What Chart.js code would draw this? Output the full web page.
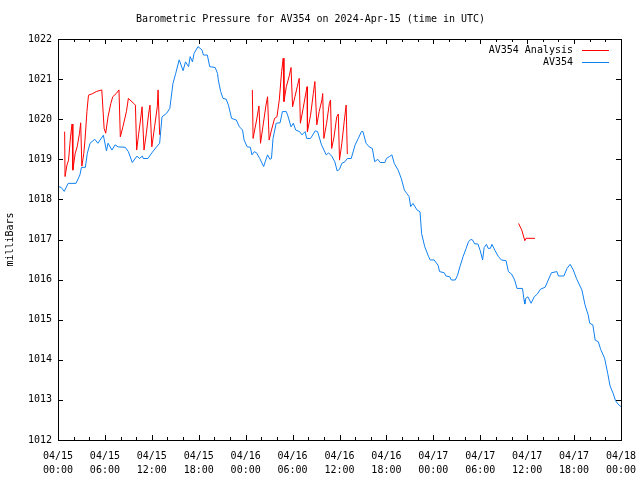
<!DOCTYPE html>
<html>
<head>
<meta charset="utf-8">
<script src="https://cdn.jsdelivr.net/npm/chart.js@4/dist/chart.umd.min.js"></script>
<style>
  html, body { margin: 0; padding: 0; background: #fff; }
  canvas { display: block; }
</style>
</head>
<body>
<canvas id="pressure-chart" width="640" height="480"></canvas>
<script>
// hours since 04/15 00:00 UTC
const stationHours = [
  0.0, 0.4, 0.8, 1.3, 2.3, 2.8, 3.0, 3.5, 3.75, 4.1, 4.7, 5.1, 5.8, 6.2, 6.4, 6.9, 7.3, 7.7, 8.6, 9.0,
  9.5, 10.1, 10.4, 10.8, 10.9, 11.5, 12.0, 12.6, 13.0, 13.3, 13.9, 14.3, 14.7, 15.05, 15.5, 16.0, 16.3, 16.7, 16.9, 17.2,
  17.4, 17.9, 18.4, 18.6, 19.1, 19.4, 20.1, 20.4, 20.5, 20.8, 21.1, 21.5, 21.8, 22.2, 22.8, 23.2, 23.6, 23.8, 24.2, 24.6,
  24.8, 25.1, 25.4, 25.8, 26.3, 26.5, 26.8, 27.1, 27.3, 27.5, 27.9, 28.4, 28.7, 29.2, 29.4, 29.8, 30.1, 30.4, 30.9, 31.2,
  31.6, 31.8, 32.3, 32.9, 33.2, 33.7, 34.3, 34.6, 35.0, 35.4, 35.7, 36.0, 36.3, 36.7, 37.0, 37.5, 38.0, 38.4, 38.8, 39.0,
  39.4, 39.8, 40.2, 40.5, 40.9, 41.2, 41.8, 42.0, 42.4, 42.7, 43.0, 43.5, 43.9, 44.3, 44.6, 44.9, 45.1, 45.4, 45.9, 46.3,
  46.5, 46.9, 47.4, 47.6, 48.1, 48.6, 48.8, 49.4, 49.6, 50.1, 50.3, 50.8, 51.1, 51.4, 51.8, 52.2, 52.5, 52.8, 53.0, 53.3,
  53.7, 54.0, 54.3, 54.5, 54.8, 55.0, 55.3, 55.5, 55.9, 56.3, 56.7, 57.3, 57.6, 58.0, 58.4, 58.7, 59.4, 59.6, 59.7, 59.8,
  60.1, 60.5, 60.9, 61.3, 61.7, 62.3, 62.7, 63.1, 63.8, 64.0, 64.7, 65.1, 65.5, 65.9, 66.3, 67.0, 67.4, 67.8, 68.0, 68.4,
  68.7, 69.1, 69.4, 69.9, 70.3, 70.6, 71.0, 71.3, 71.6, 72.0
];
const stationPressure = [
  1018.32, 1018.30, 1018.20, 1018.40, 1018.40, 1018.61, 1018.80, 1018.80, 1019.15, 1019.40, 1019.50, 1019.40, 1019.60, 1019.21, 1019.40, 1019.23, 1019.36, 1019.31, 1019.30, 1019.19,
  1018.92, 1019.08, 1019.02, 1019.08, 1019.02, 1019.02, 1019.16, 1019.31, 1019.40, 1020.06, 1020.15, 1020.27, 1020.89, 1021.14, 1021.48, 1021.21, 1021.43, 1021.31, 1021.56, 1021.43,
  1021.64, 1021.81, 1021.73, 1021.60, 1021.60, 1021.31, 1021.29, 1021.14, 1020.98, 1020.69, 1020.52, 1020.50, 1020.35, 1020.02, 1019.98, 1019.81, 1019.73, 1019.48, 1019.31, 1019.30,
  1019.11, 1019.19, 1019.16, 1019.02, 1018.82, 1018.94, 1019.11, 1019.00, 1019.02, 1019.52, 1019.90, 1019.91, 1020.19, 1020.19, 1020.08, 1019.81, 1019.90, 1019.73, 1019.69, 1019.61,
  1019.69, 1019.52, 1019.52, 1019.71, 1019.69, 1019.36, 1019.11, 1019.16, 1019.08, 1018.94, 1018.71, 1018.75, 1018.90, 1018.94, 1019.02, 1019.02, 1019.36, 1019.52, 1019.69, 1019.69,
  1019.40, 1019.31, 1019.27, 1018.94, 1019.00, 1018.92, 1018.92, 1019.02, 1019.07, 1019.11, 1018.90, 1018.73, 1018.52, 1018.23, 1018.15, 1018.07, 1017.82, 1017.90, 1017.74, 1017.69,
  1017.15, 1016.82, 1016.57, 1016.49, 1016.49, 1016.36, 1016.20, 1016.17, 1016.09, 1016.07, 1015.99, 1015.99, 1016.11, 1016.32, 1016.57, 1016.78, 1016.95, 1017.00, 1016.99, 1016.89,
  1016.89, 1016.72, 1016.49, 1016.80, 1016.88, 1016.78, 1016.78, 1016.88, 1016.72, 1016.58, 1016.49, 1016.47, 1016.20, 1016.14, 1015.99, 1015.78, 1015.78, 1015.49, 1015.39, 1015.53,
  1015.57, 1015.41, 1015.57, 1015.64, 1015.76, 1015.81, 1015.99, 1016.17, 1016.20, 1016.09, 1016.09, 1016.28, 1016.38, 1016.24, 1016.03, 1015.74, 1015.37, 1015.12, 1014.91, 1014.87,
  1014.49, 1014.45, 1014.26, 1014.04, 1013.66, 1013.35, 1013.16, 1012.98, 1012.90, 1012.83
];

// analysis series has gaps (null)
const analysisHours = [
  0.85, 0.9, 1.15, 1.35, 1.6, 1.8, 1.9, 2.2, 2.45, 2.75, 2.9, 3.05, 3.3, 3.45, 3.7, 3.9, 4.45, 4.9, 5.6, 5.9,
  6.1, 6.4, 6.75, 7.0, 7.45, 7.8, 7.97, 8.3, 8.75, 9.0, 9.7, 9.9, 10.06, 10.3, 10.55, 10.75, 11.0, 11.3, 11.6, 11.76,
  12.0, 12.35, 12.7, 12.8, 13.0,
  18.0,
  24.85, 24.95, 25.15, 25.4, 25.7, 25.9, 26.2, 26.6, 26.8, 27.0, 27.3, 27.7, 28.0, 28.3, 28.6, 28.8, 28.9, 29.2, 29.6, 29.8,
  30.0, 30.3, 30.6, 30.85, 31.0, 31.35, 31.65, 31.85, 31.9, 32.3, 32.65, 32.85, 33.1, 33.4, 33.75, 33.85, 34.0, 34.35, 34.7, 34.85,
  35.0, 35.3, 35.65, 35.85, 36.0, 36.3, 36.6, 36.85, 37.0,
  48.0,
  58.9, 59.3, 59.7, 59.85, 61.0
];
const analysisPressure = [
  1019.69, 1018.57, 1018.86, 1018.98, 1019.56, 1019.88, 1018.73, 1019.15, 1019.31, 1019.65, 1019.91, 1018.83, 1019.15, 1019.48, 1020.19, 1020.60, 1020.64, 1020.69, 1020.73, 1019.77,
  1019.65, 1020.06, 1020.39, 1020.56, 1020.64, 1020.73, 1019.56, 1019.81, 1020.19, 1020.52, 1020.39, 1020.35, 1019.23, 1019.61, 1019.98, 1020.31, 1019.23, 1019.65, 1020.15, 1020.35,
  1019.31, 1019.81, 1020.31, 1020.73, 1019.61,
  null,
  1020.73, 1019.52, 1019.73, 1019.98, 1020.33, 1019.40, 1019.81, 1020.35, 1020.56, 1019.48, 1019.73, 1020.02, 1020.06, 1020.48, 1021.19, 1021.52, 1020.44, 1020.81, 1021.10, 1021.29,
  1020.31, 1020.56, 1020.81, 1021.02, 1019.90, 1020.27, 1020.60, 1020.81, 1019.69, 1020.10, 1020.64, 1020.94, 1019.86, 1020.19, 1020.48, 1020.64, 1019.52, 1019.90, 1020.39, 1020.48,
  1019.27, 1019.56, 1020.06, 1020.13, 1018.98, 1019.40, 1019.94, 1020.35, 1019.13,
  null,
  1017.40, 1017.24, 1016.97, 1017.03, 1017.03
];

const xTickLabels = [
  ['04/15', '00:00'], ['04/15', '06:00'], ['04/15', '12:00'], ['04/15', '18:00'],
  ['04/16', '00:00'], ['04/16', '06:00'], ['04/16', '12:00'], ['04/16', '18:00'],
  ['04/17', '00:00'], ['04/17', '06:00'], ['04/17', '12:00'], ['04/17', '18:00'],
  ['04/18', '00:00']
];

const FONT_FAMILY = '"DejaVu Sans Mono", "Liberation Mono", monospace';

function toPoints(xs, ys) {
  return xs.map((x, i) => ({ x: x, y: ys[i] }));
}

// gnuplot style frame: box with inward ticks on all four sides
const framePlugin = {
  id: 'frame',
  afterDraw(chart) {
    const { ctx, chartArea, scales } = chart;
    const { left, right, top, bottom } = chartArea;
    ctx.save();
    ctx.strokeStyle = '#000';
    ctx.lineWidth = 1;
    ctx.strokeRect(left + 0.5, top + 0.5, right - left, bottom - top);
    ctx.beginPath();
    for (let h = scales.x.min; h <= scales.x.max; h += 2) {
      const px = Math.round(scales.x.getPixelForValue(h)) + 0.5;
      const len = h % 6 === 0 ? 5 : 3;
      ctx.moveTo(px, bottom);
      ctx.lineTo(px, bottom - len);
      ctx.moveTo(px, top);
      ctx.lineTo(px, top + len);
    }
    scales.y.ticks.forEach(t => {
      const py = Math.round(scales.y.getPixelForValue(t.value)) + 0.5;
      ctx.moveTo(left, py);
      ctx.lineTo(left + 5, py);
      ctx.moveTo(right, py);
      ctx.lineTo(right - 5, py);
    });
    ctx.stroke();

    // key in the top right corner
    ctx.font = '10px ' + FONT_FAMILY;
    ctx.textAlign = 'right';
    ctx.textBaseline = 'middle';
    ctx.fillStyle = '#000';
    chart.data.datasets.forEach((ds, i) => {
      const y = top + 11 + i * 12;
      const x = right - 48;
      ctx.fillText(ds.label, x, y);
      ctx.strokeStyle = ds.borderColor;
      ctx.beginPath();
      ctx.moveTo(x + 9, y + 0.5);
      ctx.lineTo(x + 36, y + 0.5);
      ctx.stroke();
    });
    ctx.restore();
  }
};

const ctx = document.getElementById('pressure-chart');

new Chart(ctx, {
  type: 'line',
  data: {
    datasets: [
      {
        label: 'AV354 Analysis',
        data: toPoints(analysisHours, analysisPressure),
        borderColor: '#ff0000',
        borderWidth: 1,
        pointRadius: 0,
        spanGaps: false,
        tension: 0
      },
      {
        label: 'AV354',
        data: toPoints(stationHours, stationPressure),
        borderColor: '#1080f0',
        borderWidth: 1,
        pointRadius: 0,
        tension: 0
      }
    ]
  },
  options: {
    responsive: false,
    devicePixelRatio: 1,
    animation: false,
    layout: { padding: { left: 0, right: 19, top: 0, bottom: 0 } },
    plugins: {
      legend: { display: false },
      tooltip: { enabled: false },
      title: {
        display: true,
        text: 'Barometric Pressure for AV354 on 2024-Apr-15 (time in UTC)',
        color: '#000',
        font: { family: FONT_FAMILY, size: 10, weight: 'normal' },
        padding: { top: 13, bottom: 14 }
      }
    },
    scales: {
      x: {
        type: 'linear',
        min: 0,
        max: 72,
        grid: { display: false, drawTicks: false },
        border: { display: false },
        ticks: {
          stepSize: 6,
          autoSkip: false,
          maxRotation: 0,
          color: '#000',
          padding: 9,
          font: { family: FONT_FAMILY, size: 10, lineHeight: 1.4 },
          callback: v => xTickLabels[Math.round(v / 6)]
        },
        afterFit: s => { s.height = 40; s.paddingLeft = 0; s.paddingRight = 0; }
      },
      y: {
        min: 1012,
        max: 1022,
        grid: { display: false, drawTicks: false },
        border: { display: false },
        ticks: {
          stepSize: 1,
          color: '#000',
          padding: 6,
          font: { family: FONT_FAMILY, size: 10 },
          callback: v => String(v)
        },
        title: {
          display: true,
          text: 'milliBars',
          color: '#000',
          font: { family: FONT_FAMILY, size: 10 },
          padding: { top: 4, bottom: 0 }
        },
        afterFit: s => { s.width = 58; s.paddingTop = 0; s.paddingBottom = 0; }
      }
    }
  },
  plugins: [framePlugin]
});
</script>
</body>
</html>
